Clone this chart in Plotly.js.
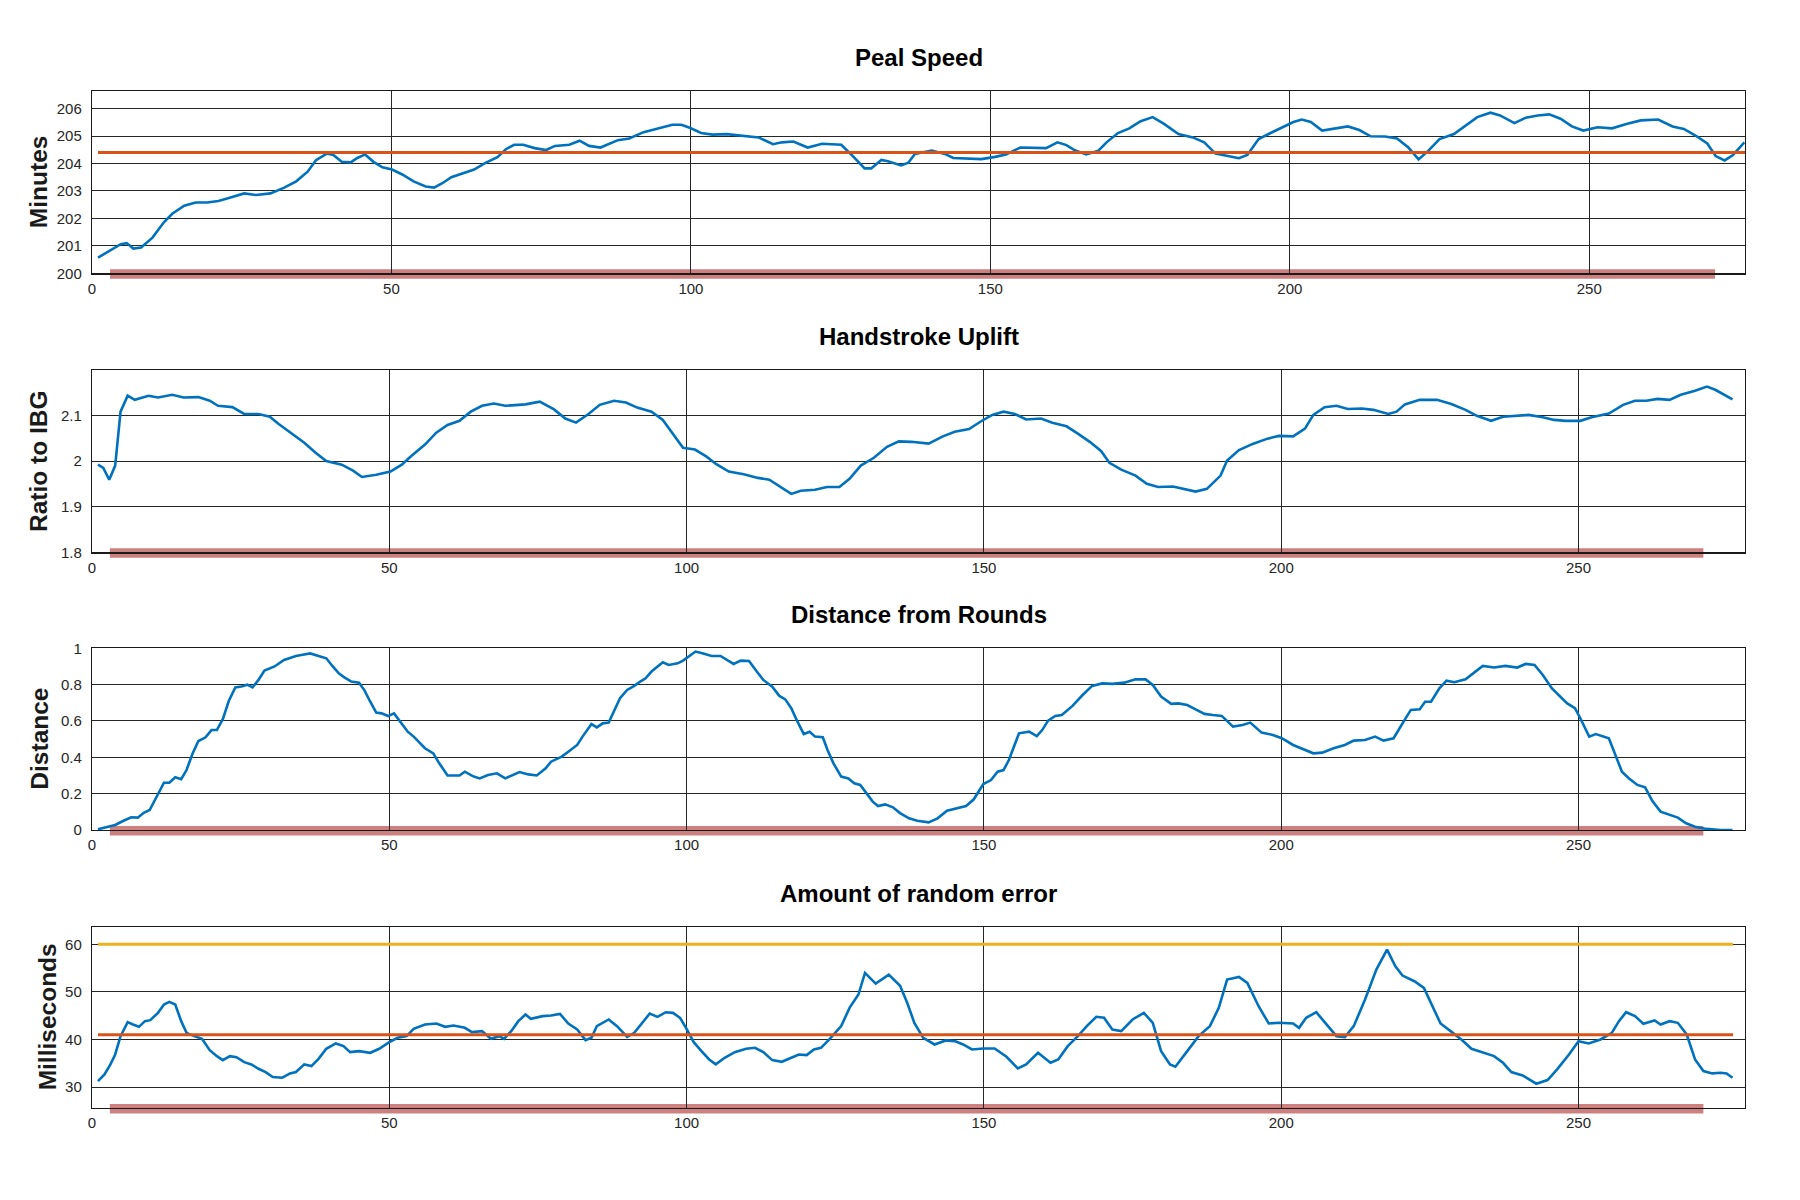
<!DOCTYPE html>
<html>
<head>
<meta charset="utf-8">
<script src="https://cdn.plot.ly/plotly-3.0.1.min.js"></script>
<style>
  html, body { margin: 0; padding: 0; background: #ffffff; }
  #chart { width: 1800px; height: 1200px; }
</style>
</head>
<body>
<div id="chart"></div>
<script>
// ---------- Data ----------
const panelTitles = ["Peal Speed", "Handstroke Uplift", "Distance from Rounds", "Amount of random error"];
const axisTitles = ["Minutes", "Ratio to IBG", "Distance", "Milliseconds"];
const xTickVals = [0, 50, 100, 150, 200, 250];

// Peal speed (minutes)
const pealX = [
  1,2.9,4.8,5.8,6.9,8.2,10.1,12,13.4,15.4,
  17.3,19.2,21.1,23,25.4,27.4,29.8,32.1,34.1,36,
  37.4,39.2,40.3,41.7,43.2,44.3,45.6,47,48.5,50.1,
  51.8,53.7,55.7,57.1,58.5,60,61.9,63.8,65.7,67.7,
  69.1,70.5,72,73.9,75.8,77.3,79.7,81.4,83,84.9,
  87.8,89.7,92.1,94.5,96.9,98.4,99.8,101.7,103.6,106,
  108.4,111.3,113.7,115.2,117.1,119.5,121.9,125.1,126.8,129,
  130.1,131.8,132.9,135.1,136.3,137.4,140.2,142.4,143.8,146.4,
  148.5,150.8,152.6,155,157.4,159.3,161.2,162.7,164.1,166,
  168,169.4,171.3,173.2,175.1,177.1,179,181.4,183.8,185.7,
  187.6,189.5,191.5,192.9,194.8,196.7,198.7,200.6,202,203.5,
  205.4,207.3,209.7,211.6,213.5,215.9,217.9,219.8,221.5,223.1,
  225,227.4,229.4,231.3,233.5,235.1,237.5,239.4,241.4,243.3,
  245.2,247.1,249,251.4,253.8,256.2,258.6,261.5,263.9,265.8,
  267.8,269.7,271.1,272.6,274,275.9
];
const pealMinutes = [
  200.57,200.8,201.06,201.1,200.9,200.94,201.3,201.86,202.17,202.46,
  202.58,202.58,202.63,202.75,202.91,202.85,202.91,203.12,203.35,203.7,
  204.12,204.36,204.31,204.06,204.04,204.2,204.33,204.06,203.86,203.78,
  203.6,203.35,203.16,203.12,203.28,203.5,203.65,203.78,204.02,204.23,
  204.52,204.68,204.68,204.56,204.49,204.64,204.68,204.83,204.64,204.58,
  204.85,204.91,205.14,205.28,205.41,205.41,205.3,205.11,205.05,205.07,
  205.01,204.95,204.7,204.77,204.8,204.58,204.72,204.68,204.32,203.82,
  203.82,204.13,204.08,203.93,204.03,204.35,204.47,204.35,204.2,204.17,
  204.16,204.24,204.33,204.58,204.58,204.56,204.77,204.67,204.48,204.33,
  204.46,204.77,205.11,205.28,205.54,205.69,205.44,205.07,204.95,204.77,
  204.36,204.27,204.19,204.31,204.89,205.1,205.32,205.51,205.6,205.51,
  205.2,205.26,205.35,205.22,204.99,204.98,204.91,204.58,204.15,204.46,
  204.89,205.07,205.38,205.69,205.85,205.75,205.47,205.67,205.75,205.79,
  205.63,205.35,205.2,205.32,205.28,205.44,205.57,205.6,205.35,205.26,
  205.01,204.73,204.27,204.11,204.31,204.77
];
const pealMean = 204.4;

// Handstroke uplift (ratio to IBG)
const upliftX = [
  1,1.9,2.9,3.9,4.8,6,7.2,9.5,11.1,13.5,
  15.4,17.9,19.8,21.2,23.6,25.6,28,29.9,31.4,33.3,
  35.7,37.6,39.4,42,43.9,45.4,47.8,50.2,52.1,53.6,
  56,57.9,59.8,61.8,63.7,65.6,67.6,69.5,72.9,75.3,
  77.7,79.6,81.4,83.5,85.4,87.8,89.8,91.7,94.1,96,
  97.5,99.4,101.4,103.3,105,107.1,109.6,112,113.9,115.8,
  117.6,119.2,121.6,123.6,125.7,127.4,129.3,131.5,133.7,135.7,
  137.8,140.7,143.1,145.1,147.5,149.4,151.4,153.3,155.2,157.1,
  159.6,161.5,163.9,165.8,167.8,169.7,171.1,173.1,175.5,177.4,
  179.3,181.8,183.7,185.6,187.5,189.8,190.9,192.9,195.3,197.7,
  199.6,202,204,205.4,207.3,209.3,211.2,213.6,215.5,218,
  219.4,220.8,223.3,226.2,228.6,231,232.9,235.3,237.3,239.2,
  241.6,244,245.9,247.9,250.3,252.2,255.1,257.5,259.5,261.4,
  263.3,265.3,267.2,269.6,271.6,273,274.4,275.9
];
const upliftRatio = [
  1.992,1.985,1.959,1.99,2.108,2.143,2.134,2.143,2.139,2.145,
  2.139,2.14,2.132,2.121,2.118,2.103,2.103,2.097,2.081,2.062,
  2.04,2.018,2.0,1.992,1.979,1.965,1.97,1.977,1.992,2.01,
  2.036,2.062,2.079,2.088,2.108,2.121,2.126,2.121,2.124,2.13,
  2.113,2.093,2.084,2.103,2.123,2.132,2.128,2.117,2.108,2.09,
  2.062,2.029,2.025,2.01,1.993,1.977,1.971,1.963,1.959,1.944,
  1.928,1.935,1.937,1.943,1.943,1.961,1.99,2.007,2.031,2.043,
  2.042,2.038,2.054,2.064,2.07,2.086,2.101,2.108,2.103,2.091,
  2.093,2.084,2.076,2.06,2.042,2.022,1.996,1.981,1.968,1.95,
  1.943,1.944,1.938,1.933,1.939,1.968,2.001,2.024,2.038,2.049,
  2.055,2.054,2.071,2.101,2.118,2.121,2.114,2.115,2.112,2.103,
  2.108,2.124,2.134,2.134,2.125,2.112,2.099,2.088,2.097,2.099,
  2.101,2.096,2.09,2.088,2.088,2.096,2.104,2.123,2.132,2.132,
  2.136,2.134,2.145,2.154,2.163,2.156,2.145,2.135
];

// Distance from rounds
const distX = [
  1,2.4,3.9,5.3,6.6,7.7,8.7,9.7,10.8,12.1,
  13,14,15,15.9,16.9,17.9,19.1,20.1,21,22,
  23,24.1,25.1,26.1,27,28,29,30.7,32.3,34.3,
  35.2,36.7,38.1,39.4,40.5,41.5,42.5,43.6,44.9,45.8,
  46.8,47.8,48.7,49.8,50.8,52.1,53.1,54.1,55,56,
  57.4,58.4,59.8,61.8,62.7,64.2,65.2,66.6,68.1,69.5,
  71.9,73.4,74.8,76.3,77.2,79,80.1,81.6,82.5,84,
  84.9,85.9,86.9,87.8,88.8,90,91.2,92.2,93.1,94.1,
  95.1,96,97,98.5,99.4,100.4,101.5,102.8,104.2,105.7,
  106.7,107.9,109.1,110.5,111.8,112.9,114.4,115.6,116.6,117.6,
  118.5,119.7,120.7,121.6,122.9,123.7,124.7,126,127.2,128.2,
  129.2,130.3,131.3,132.2,133.4,134.7,135.9,137.4,138.8,140.7,
  142.2,143.8,145.6,147,148.3,149.9,151.2,152.3,153.3,154.2,
  155.9,157.6,158.9,159.8,160.8,162,163.1,164.9,166.6,168.2,
  169.9,171.6,173.6,175.5,177.2,178.4,179.8,181.5,182.7,184.2,
  185.6,187.1,188.5,190,191.9,193.5,194.8,196.7,198.6,200.1,
  202,204,205.4,206.9,208.8,210.7,212.2,214.1,215.8,217.2,
  218.9,220.4,221.8,223.3,224.2,225.2,226.6,227.8,229.1,231,
  232.4,233.9,235.8,237.7,239.7,241.1,242.6,244,245.5,246.9,
  248.1,249.4,250.3,251.8,252.9,255.1,256.1,257.3,258.5,259.9,
  261.2,262.4,263.8,265.3,266.7,268.1,269.6,271.5,273.9,275.9
];
const distValue = [
  0.004,0.015,0.028,0.051,0.07,0.068,0.095,0.11,0.18,0.26,
  0.26,0.29,0.28,0.33,0.42,0.49,0.51,0.55,0.55,0.61,
  0.71,0.785,0.79,0.80,0.785,0.826,0.877,0.90,0.936,0.958,
  0.963,0.972,0.958,0.945,0.90,0.862,0.839,0.817,0.811,0.77,
  0.706,0.646,0.642,0.627,0.642,0.587,0.541,0.514,0.486,0.45,
  0.422,0.367,0.30,0.30,0.321,0.294,0.284,0.303,0.312,0.284,
  0.319,0.306,0.30,0.34,0.376,0.404,0.431,0.468,0.514,0.583,
  0.565,0.587,0.591,0.651,0.725,0.771,0.793,0.817,0.835,0.872,
  0.899,0.923,0.908,0.917,0.932,0.954,0.982,0.972,0.958,0.958,
  0.936,0.914,0.932,0.93,0.872,0.826,0.789,0.738,0.719,0.67,
  0.606,0.528,0.541,0.514,0.51,0.44,0.367,0.294,0.284,0.257,
  0.248,0.202,0.156,0.132,0.141,0.125,0.093,0.064,0.051,0.042,
  0.064,0.106,0.119,0.132,0.169,0.253,0.275,0.321,0.33,0.385,
  0.532,0.541,0.517,0.55,0.602,0.628,0.633,0.683,0.743,0.793,
  0.807,0.804,0.811,0.829,0.829,0.798,0.734,0.694,0.697,0.688,
  0.664,0.639,0.633,0.628,0.569,0.578,0.591,0.536,0.523,0.505,
  0.468,0.44,0.422,0.426,0.45,0.468,0.492,0.495,0.514,0.492,
  0.505,0.587,0.661,0.664,0.706,0.706,0.78,0.822,0.813,0.829,
  0.866,0.903,0.894,0.903,0.894,0.914,0.908,0.853,0.78,0.738,
  0.697,0.67,0.615,0.514,0.528,0.505,0.422,0.321,0.284,0.248,
  0.235,0.161,0.101,0.083,0.068,0.037,0.018,0.006,0.0,0.0
];

// Amount of random error (ms)
const errX = [
  1,2.1,3.1,3.9,4.8,6,6.9,7.9,8.9,9.8,
  11.1,12.1,13,14,15,15.9,17.2,18.5,19.8,21,
  22,23.2,24.3,25.6,26.8,28,29.2,30.4,32,33.3,
  34.3,35.7,36.9,38.1,39.4,41,42.3,43.4,44.9,46.8,
  48.3,50,51.4,52.9,54.1,56,57.9,59.4,60.8,62.7,
  63.9,65.6,67.1,68.5,69.3,70.5,71.7,72.9,73.8,75.8,
  77.2,78.7,80.1,81.6,83,84,84.9,86.9,88.3,90,
  91.2,92.7,93.8,95.1,96.5,97.7,98.9,99.9,101.2,102.5,
  103.8,104.9,106.4,108.1,110,111.5,112.9,114.4,116,117.6,
  118.9,120.2,121.4,122.6,124,126,127.4,128.9,130,131.8,
  134,135.9,137.1,138.3,139.8,141.7,143.6,145.1,146.5,148,
  149.9,151.8,153.8,155.7,157.1,159.1,161.2,162.5,164.1,165.8,
  167.3,168.9,170.2,171.6,173.1,175,176.9,178.4,179.8,181.3,
  182.2,184.2,186.1,188,189.5,190.9,192.9,194.3,196.2,197.9,
  199.6,202,203,204.2,205.9,207.3,209.3,210.7,212.2,214.1,
  216,217.8,219.2,220.4,222.4,224,225.3,226.8,228.7,230.3,
  232,233.9,235.8,237.3,238.7,240.6,242.9,244.8,246.4,248.4,
  250,251.7,253.7,255.6,256.8,258,259.5,260.9,262.8,263.8,
  265.3,266.7,268.2,269.6,271,272.5,273.9,274.9,275.9
];
const errMs = [
  31.26,32.66,34.76,36.85,40.7,43.64,43.15,42.66,43.85,44.06,
  45.6,47.34,47.9,47.34,43.85,41.4,40.7,40.14,37.76,36.5,
  35.66,36.5,36.29,35.24,34.76,33.85,33.15,32.1,31.96,32.87,
  33.15,34.76,34.41,35.94,38.04,39.16,38.6,37.34,37.55,37.2,
  38.04,39.44,40.35,40.7,42.24,43.15,43.36,42.66,42.94,42.45,
  41.54,41.75,40.14,40.7,40.14,41.75,43.85,45.24,44.34,44.9,
  45.03,45.38,43.36,42.1,39.86,40.35,42.8,44.2,42.8,40.56,
  41.4,43.85,45.45,44.76,45.73,45.6,44.55,42.45,39.44,37.55,
  35.8,34.76,36.15,37.34,38.04,38.25,37.34,35.66,35.31,36.15,
  36.85,36.71,37.9,38.25,40.0,42.8,46.64,49.44,53.99,51.75,
  53.64,51.3,47.7,43.5,40.35,38.95,39.8,39.65,38.95,37.9,
  38.1,38.1,36.36,33.92,34.76,37.2,35.1,35.8,38.6,40.7,
  42.8,44.76,44.55,42.1,41.75,44.2,45.6,43.5,37.55,34.76,
  34.27,37.55,40.7,42.8,46.64,52.59,53.15,51.89,46.99,43.36,
  43.5,43.36,42.45,44.55,45.73,43.64,40.7,40.5,42.8,48.39,
  54.69,58.88,55.38,53.43,52.24,50.84,47.34,43.36,41.54,40.0,
  38.04,37.2,36.5,35.1,33.15,32.45,30.7,31.47,33.71,36.85,
  39.65,39.16,40.0,41.4,43.85,45.73,44.9,43.29,44.0,43.15,
  43.85,43.5,41.05,35.8,33.36,32.87,33.0,32.87,31.96
];
const errMean = 41;
const errLimit = 60;

// Reference line span and highlighted band span (x units)
const refLineSpan = [1, 276];
const bandSpan = [3, 271];

// Axis ranges and ticks
const xRanges = [[0, 276], [0, 278], [0, 278], [0, 278]];
const yRanges = [[200, 206.64], [1.8, 2.2], [0, 1], [25.6, 63.7]];
const yTickVals = [[200,201,202,203,204,205,206], [1.8,1.9,2,2.1], [0,0.2,0.4,0.6,0.8,1], [30,40,50,60]];
const yTickText = [["200","201","202","203","204","205","206"], ["1.8","1.9","2","2.1"], ["0","0.2","0.4","0.6","0.8","1"], ["30","40","50","60"]];

// ---------- Styling ----------
const BLUE = '#0072bd', ORANGE = '#d95319', YELLOW = '#edb120', BAND = '#cd8080';
const W = 1800, H = 1200;
const M = {l: 92, r: 55, t: 91, b: 92};
const plotH = H - M.t - M.b;   // 1017
const plotW = W - M.l - M.r;   // 1653
// panel pixel extents (top, bottom) measured from the page top
const panelPx = [[91, 273.3], [369.7, 552.3], [648.3, 830], [926.7, 1108]];
const domains = panelPx.map(p => [(H - M.b - p[1]) / plotH, Math.min(1, (H - M.b - p[0]) / plotH)]);

const tickFont = {family: 'Liberation Sans, Arial, sans-serif', size: 15, color: '#262626'};
const axBase = {
  showline: true, mirror: true, linecolor: '#1a1a1a', linewidth: 1.2,
  showgrid: true, gridcolor: '#262626', gridwidth: 1,
  zeroline: false, tickfont: tickFont, fixedrange: true
};

const traces = [];
function addLine(i, xs, ys, color, width) {
  const s = i === 0 ? '' : String(i + 1);
  traces.push({x: xs, y: ys, type: 'scatter', mode: 'lines', xaxis: 'x' + s, yaxis: 'y' + s,
    line: {color: color, width: width}, hoverinfo: 'skip', showlegend: false});
}
addLine(0, pealX, pealMinutes, BLUE, 2.6);
addLine(0, refLineSpan, [pealMean, pealMean], ORANGE, 3);
addLine(1, upliftX, upliftRatio, BLUE, 2.6);
addLine(2, distX, distValue, BLUE, 2.6);
addLine(3, errX, errMs, BLUE, 2.6);
addLine(3, refLineSpan, [errMean, errMean], ORANGE, 3);
addLine(3, refLineSpan, [errLimit, errLimit], YELLOW, 3);

const layout = {
  width: W, height: H, margin: M,
  paper_bgcolor: '#ffffff', plot_bgcolor: '#ffffff',
  showlegend: false,
  annotations: [], shapes: []
};

for (let i = 0; i < 4; i++) {
  const s = i === 0 ? '' : String(i + 1);
  layout['xaxis' + s] = Object.assign({}, axBase, {
    domain: [0, 1], anchor: 'y' + s, range: xRanges[i],
    tickmode: 'array', tickvals: xTickVals, ticktext: xTickVals.map(String),
    ticks: 'outside', ticklen: 1, tickcolor: 'rgba(0,0,0,0)'
  });
  layout['yaxis' + s] = Object.assign({}, axBase, {
    domain: domains[i], anchor: 'x' + s, range: yRanges[i],
    tickmode: 'array', tickvals: yTickVals[i], ticktext: yTickText[i],
    ticks: 'outside', ticklen: 6, tickcolor: 'rgba(0,0,0,0)'
  });
  // panel title
  const titleCenterPx = panelPx[i][0] - 33.5;
  layout.annotations.push({
    text: panelTitles[i], xref: 'paper', yref: 'paper',
    x: 0.5, y: (H - M.b - titleCenterPx) / plotH, xanchor: 'center', yanchor: 'middle',
    showarrow: false, font: {family: 'Liberation Sans, Arial, sans-serif', size: 24, color: '#000000', weight: 'bold'}
  });
  // y-axis title
  const axTitleX = [38, 38, 39.5, 47][i];
  layout.annotations.push({
    text: axisTitles[i], xref: 'paper', yref: 'paper',
    x: (axTitleX - M.l) / plotW, y: (domains[i][0] + domains[i][1]) / 2,
    xanchor: 'center', yanchor: 'middle', textangle: -90,
    showarrow: false, font: {family: 'Liberation Sans, Arial, sans-serif', size: 24.5, color: '#1a1a1a', weight: 'bold'}
  });
  // highlighted band along the bottom axis
  layout.shapes.push({
    type: 'rect', xref: 'x' + s, yref: 'paper', layer: 'below',
    x0: bandSpan[0], x1: bandSpan[1],
    y0: domains[i][0] - 5.5 / plotH, y1: domains[i][0] + 4 / plotH,
    fillcolor: BAND, line: {width: 0}
  });
}

Plotly.newPlot('chart', traces, layout, {displayModeBar: false, staticPlot: true});
</script>
</body>
</html>
